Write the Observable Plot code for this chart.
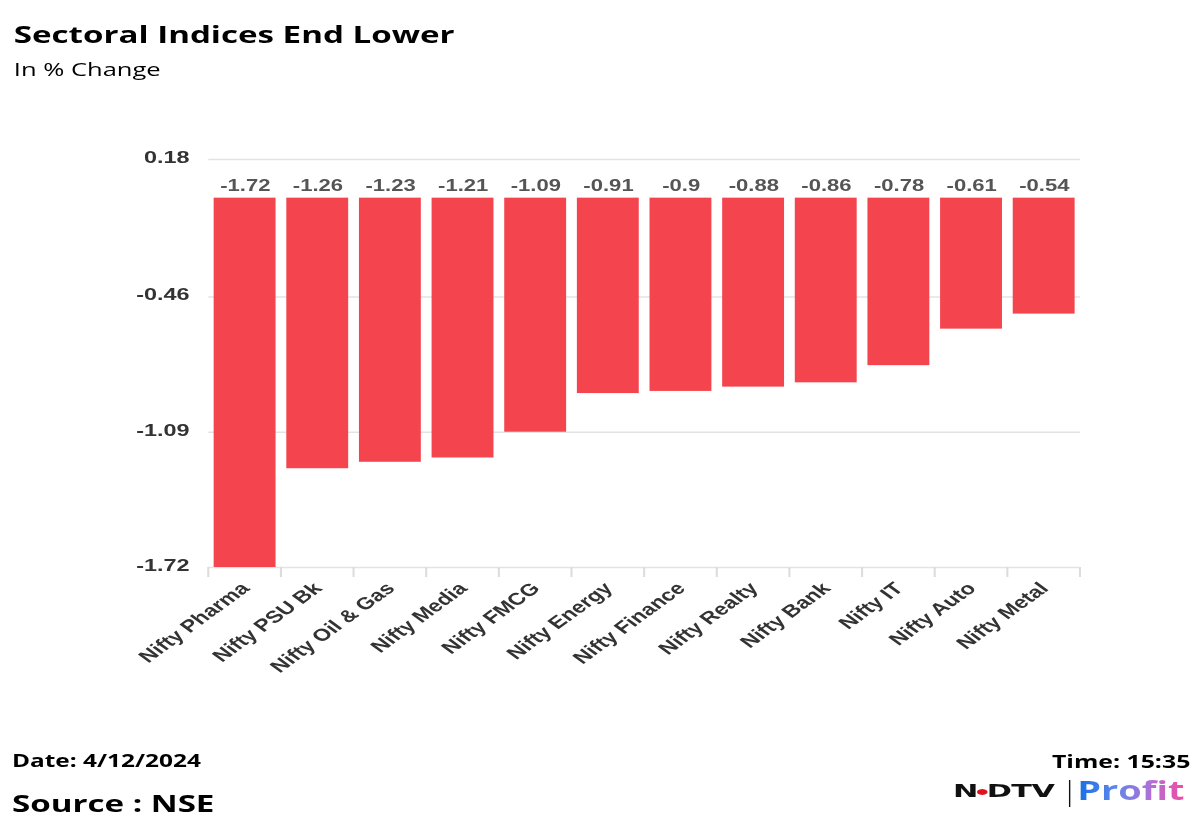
<!DOCTYPE html>
<html>
<head>
<meta charset="utf-8">
<script src="https://cdn.jsdelivr.net/npm/d3@7"></script>
<script src="https://cdn.jsdelivr.net/npm/@observablehq/plot@0.6"></script>
<style>
  html, body { margin: 0; padding: 0; background: #fff; overflow: hidden; }
  #wrap { position: absolute; left: 0; top: 0; width: 870px; height: 831px; transform: scaleX(1.3793); transform-origin: 0 0; font-family: "Open Sans", sans-serif; color: #000; }
  .t { position: absolute; white-space: nowrap; line-height: 1; }
  #title { left: 10px; top: 21.5px; font-size: 24px; font-weight: 700; }
  #subtitle { left: 10px; top: 60px; font-size: 18.5px; font-weight: 400; }
  #date { left: 8.7px; top: 752px; font-size: 17.7px; font-weight: 700; }
  #source { left: 8.7px; top: 791px; font-size: 24px; font-weight: 700; }
  #time { right: 7px; top: 752px; font-size: 18px; font-weight: 700; }
  #ndtv { left: 691px; top: 780.5px; font-family: "DejaVu Sans", sans-serif; font-weight: 700; font-size: 22px; letter-spacing: -0.4px; color: #111; transform: scaleY(0.78); transform-origin: 0 50%; }
  #ndtv .dot { color: #e0141e; font-size: 10px; vertical-align: 4px; margin: 0 -1px; }
  #vbar { position: absolute; left: 774.5px; top: 780px; width: 1.6px; height: 27px; background: #111; }
  #profit { left: 781px; top: 775px; font-family: "Open Sans", sans-serif; font-weight: 700; font-size: 27.5px; line-height: 1.1;
    background: linear-gradient(90deg, #1570e4 0%, #5f86ec 35%, #b46ed6 70%, #f24b9f 100%);
    -webkit-background-clip: text; background-clip: text; color: transparent; }
  #chart { position: absolute; left: 0; top: 110px; }
</style>
</head>
<body>
<div id="wrap">
  <div class="t" id="title">Sectoral Indices End Lower</div>
  <div class="t" id="subtitle">In % Change</div>
  <div id="chart"></div>
  <div class="t" id="date">Date: 4/12/2024</div>
  <div class="t" id="source">Source : NSE</div>
  <div class="t" id="time">Time: 15:35</div>
  <div class="t" id="ndtv">N<span class="dot">●</span>DTV</div>
  <div id="vbar"></div>
  <div class="t" id="profit">Profit</div>
</div>
<script>
const categories = ["Nifty Pharma","Nifty PSU Bk","Nifty Oil & Gas","Nifty Media","Nifty FMCG","Nifty Energy","Nifty Finance","Nifty Realty","Nifty Bank","Nifty IT","Nifty Auto","Nifty Metal"];
const values = [-1.72,-1.26,-1.23,-1.21,-1.09,-0.91,-0.9,-0.88,-0.86,-0.78,-0.61,-0.54];
const yTicks = [0.18, -0.46, -1.09, -1.72];
const yDomain = [-1.72, 0.18];

const data = categories.map((c, i) => ({category: c, value: values[i]}));

// tick marks at the category boundaries
const boundaryTicks = (index, scales, vals, dims) => {
  const x = scales.x;
  const bw = x.bandwidth();
  const y0 = dims.height - dims.marginBottom;
  const xs = categories.map(c => x(c));
  xs.push(x(categories[categories.length - 1]) + bw);
  const g = d3.create("svg:g").attr("stroke", "#dcdcdc").attr("stroke-width", 1.5);
  for (const xv of xs) g.append("line").attr("x1", xv).attr("x2", xv).attr("y1", y0).attr("y2", y0 + 10);
  return g.node();
};

const chart = Plot.plot({
  width: 870,
  height: 600,
  marginTop: 49,
  marginBottom: 143,
  marginLeft: 151,
  marginRight: 87,
  style: {fontFamily: "'Liberation Sans', Arial, sans-serif", background: "transparent"},
  x: {domain: categories, padding: 0, round: false, label: null},
  y: {domain: yDomain, label: null},
  marks: [
    Plot.gridY(yTicks, {stroke: "#e3e3e3", strokeOpacity: 1, strokeWidth: 1.5}),
    boundaryTicks,
    Plot.barY(data, {x: "category", y: "value", fill: "#f4444e", insetLeft: 3.9, insetRight: 3.9}),
    Plot.text(data, {x: "category", y: () => 0, text: d => String(d.value), dy: -12, lineAnchor: "middle", fontSize: 16, fontWeight: "bold", fill: "#555"}),
    Plot.axisY({ticks: yTicks, tickFormat: d => d.toFixed(2), tickSize: 0, tickPadding: 14, fontSize: 17, fontWeight: "bold", fill: "#333", dy: -2}),
    Plot.axisX({tickRotate: -45, tickSize: 0, tickPadding: 18, fontSize: 17, fontWeight: "bold", fill: "#333"})
  ]
});
document.getElementById("chart").appendChild(chart);
</script>
</body>
</html>
